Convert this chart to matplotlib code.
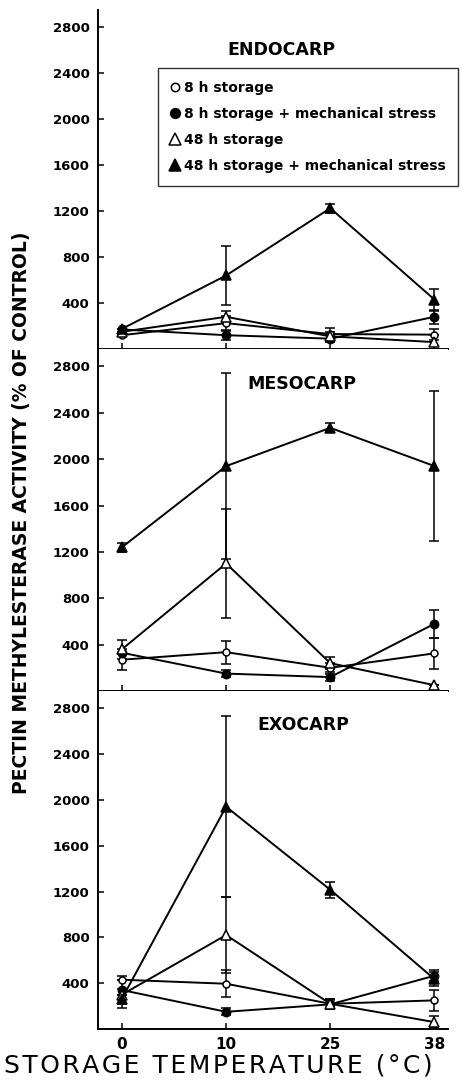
import matplotlib
matplotlib.use('Agg')
import matplotlib.pyplot as plt
from matplotlib.lines import Line2D

plt.rcParams['font.family'] = ['DejaVu Sans']

# storage temperatures (categorical, equally spaced on the axis)
temps = ['0', '10', '25', '38']
yticks = [400, 800, 1200, 1600, 2000, 2400, 2800]
labels = ['8 h storage', '8 h storage + mechanical stress',
          '48 h storage', '48 h storage + mechanical stress']
tissues = ['ENDOCARP', 'MESOCARP', 'EXOCARP']

# ENDOCARP
endo_8h = [120, 225, 130, 125]
endo_8h_err = [0, 60, 50, 50]
endo_8h_ms = [170, 120, 90, 280]
endo_8h_ms_err = [0, 40, 30, 60]
endo_48h = [150, 280, 110, 60]
endo_48h_err = [0, 50, 40, 60]
endo_48h_ms = [175, 640, 1225, 430]
endo_48h_ms_err = [0, 255, 40, 95]

# MESOCARP
meso_8h = [270, 335, 200, 325]
meso_8h_err = [90, 100, 40, 135]
meso_8h_ms = [330, 150, 120, 580]
meso_8h_ms_err = [0, 30, 30, 120]
meso_48h = [360, 1100, 240, 50]
meso_48h_err = [80, 470, 50, 0]
meso_48h_ms = [1240, 1940, 2270, 1940]
meso_48h_ms_err = [40, 800, 40, 650]

# EXOCARP
exo_8h = [430, 395, 220, 250]
exo_8h_err = [0, 120, 40, 90]
exo_8h_ms = [340, 150, 215, 465]
exo_8h_ms_err = [120, 30, 40, 50]
exo_48h = [300, 820, 220, 60]
exo_48h_err = [0, 330, 40, 50]
exo_48h_ms = [265, 1940, 1215, 435]
exo_48h_ms_err = [80, 790, 70, 60]

panels = [
    [(endo_8h, endo_8h_err), (endo_8h_ms, endo_8h_ms_err),
     (endo_48h, endo_48h_err), (endo_48h_ms, endo_48h_ms_err)],
    [(meso_8h, meso_8h_err), (meso_8h_ms, meso_8h_ms_err),
     (meso_48h, meso_48h_err), (meso_48h_ms, meso_48h_ms_err)],
    [(exo_8h, exo_8h_err), (exo_8h_ms, exo_8h_ms_err),
     (exo_48h, exo_48h_err), (exo_48h_ms, exo_48h_ms_err)],
]

# marker, face colour, size
styles = [('o', 'white', 5), ('o', 'black', 6),
          ('^', 'white', 7), ('^', 'black', 7)]

title_pos = [(1.53, 2600), (1.73, 2650), (1.74, 2650)]

W, H = 464, 1084
fig = plt.figure(figsize=(W / 100, H / 100), dpi=100)

# panel extents in pixels (top, bottom)
rows = [(10, 349), (349, 691), (691, 1029)]
left, right = 98, 448

x = list(range(len(temps)))
axes = []
for i, (top, bot) in enumerate(rows):
    ax = fig.add_axes([left / W, 1 - bot / H, (right - left) / W, (bot - top) / H])
    axes.append(ax)
    for (vals, err), (m, fc, ms) in zip(panels[i], styles):
        ax.errorbar(x, vals, yerr=err, color='black', lw=1.4, elinewidth=1.1,
                    capsize=3.5, capthick=1.1, marker=m, mfc=fc, mec='black',
                    mew=1.1, ms=ms, zorder=3)
    ax.set_xlim(-0.23, 3.13)
    ax.set_ylim(0, 2950)
    ax.set_yticks(yticks)
    ax.set_yticklabels([str(v) for v in yticks], fontsize=9.5, fontweight='bold')
    ax.set_xticks(x)
    if i == 2:
        ax.set_xticklabels(temps, fontsize=11, fontweight='bold')
    else:
        ax.set_xticklabels([])
    ax.tick_params(axis='y', direction='in', length=4, width=1.1, pad=6)
    ax.tick_params(axis='x', direction='in', length=4, width=1.1, pad=6)
    for s in ['top', 'right']:
        ax.spines[s].set_visible(False)
    for s in ['left', 'bottom']:
        ax.spines[s].set_linewidth(1.4)
    tx, ty = title_pos[i]
    ax.text(tx, ty, tissues[i], ha='center', va='center', fontsize=12.5,
            fontweight='bold')

handles = [Line2D([], [], ls='none', marker=m, mfc=fc, mec='black', mew=1.1, ms=ms + 1)
           for m, fc, ms in styles]
leg = axes[0].legend(handles, labels, loc='upper left', bbox_to_anchor=(0.171, 0.829),
                     borderaxespad=0, frameon=True, fancybox=False, handlelength=0.5,
                     handletextpad=0.4, labelspacing=0.85, borderpad=0.95,
                     prop={'size': 10, 'weight': 'bold'})
leg.get_frame().set_edgecolor('black')
leg.get_frame().set_linewidth(1.0)

fig.text(22 / W, 1 - 513 / H, 'PECTIN METHYLESTERASE ACTIVITY (% OF CONTROL)',
         rotation=90, ha='center', va='center', fontsize=13.5, fontweight='bold')
xlab = '\u200a'.join('STORAGE TEMPERATURE (°C)')
fig.text(218 / W, 1 - 1066 / H, xlab, ha='center', va='center', fontsize=18)

fig.savefig('out.png', dpi=100)
